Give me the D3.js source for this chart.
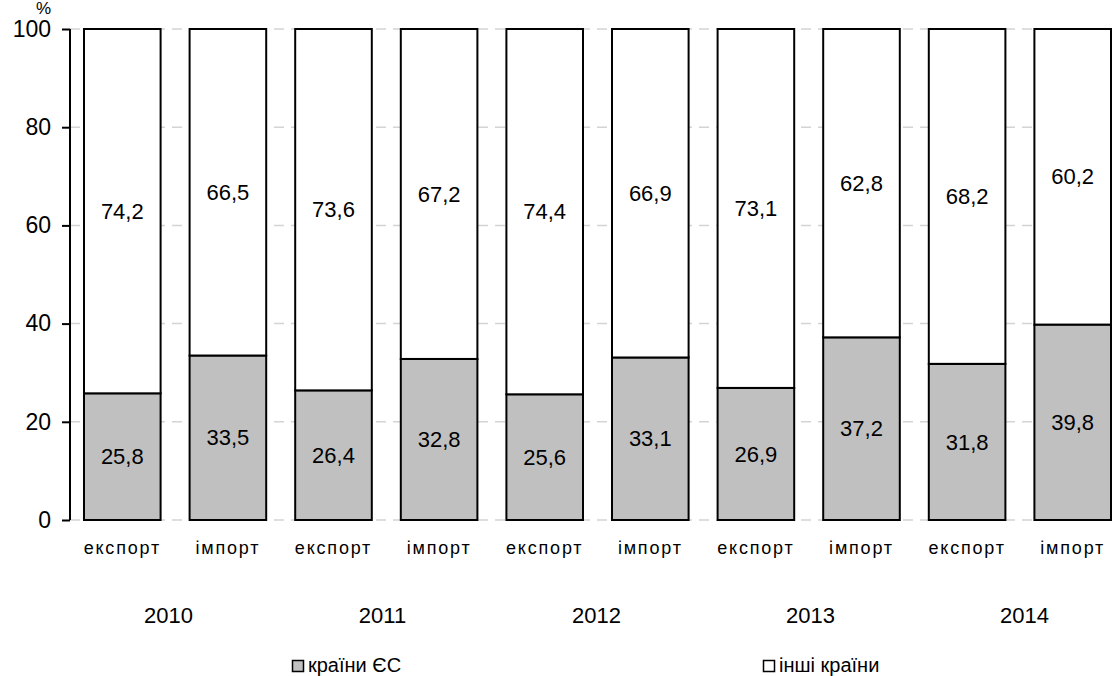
<!DOCTYPE html>
<html>
<head>
<meta charset="utf-8">
<script src="https://cdn.jsdelivr.net/npm/d3@7"></script>
<style>
  html, body { margin: 0; padding: 0; background: #ffffff; }
  svg { display: block; font-family: "Liberation Sans", Arial, sans-serif; }
</style>
</head>
<body>
<svg id="chart" width="1112" height="676"></svg>
<script>
const years = ["2010", "2011", "2012", "2013", "2014"];
const flows = ["експорт", "імпорт"];
const euShare = [25.8, 33.5, 26.4, 32.8, 25.6, 33.1, 26.9, 37.2, 31.8, 39.8];
const otherShare = [74.2, 66.5, 73.6, 67.2, 74.4, 66.9, 73.1, 62.8, 68.2, 60.2];
const yTicks = [0, 20, 40, 60, 80, 100];
const seriesNames = ["країни ЄС", "інші країни"];
const seriesColors = ["#c0c0c0", "#ffffff"];

const rows = [];
years.forEach((y, i) => flows.forEach((f, j) => {
  const k = i * 2 + j;
  rows.push({ id: y + "|" + f, year: y, flow: f, eu: euShare[k], other: otherShare[k] });
}));

const svg = d3.select("#chart");
svg.append("rect").attr("width", 1112).attr("height", 676).attr("fill", "#fff");

const x = d3.scaleBand()
  .domain(rows.map(d => d.id))
  .range([69.5, 1125.5])
  .paddingInner(0.2746)
  .paddingOuter(0.1373);
const y = d3.scaleLinear().domain([0, 100]).range([520, 29]);
const xYear = d3.scalePoint().domain(years).range([168.5, 1024.5]);

const loc = d3.formatLocale({ decimal: ",", thousands: " ", grouping: [3], currency: ["", ""] });
const fmt = loc.format(".1f");

// gridlines
svg.append("g").selectAll("line").data(yTicks).join("line")
  .attr("x1", 70).attr("x2", 1112)
  .attr("y1", d => y(d)).attr("y2", d => y(d))
  .attr("stroke", "#d4d4d4").attr("stroke-width", 1.5)
  .attr("stroke-dasharray", "10,7");

// y axis
const yAxis = d3.axisLeft(y).tickValues(yTicks).tickSize(8).tickPadding(11);
const gy = svg.append("g").attr("transform", "translate(70,0)").call(yAxis);
gy.select(".domain").attr("stroke", "#000").attr("stroke-width", 2).attr("d", `M0,${y(0)}V${y(100)}`);
gy.selectAll(".tick line").attr("stroke", "#000").attr("stroke-width", 2);
gy.selectAll(".tick text").attr("font-size", 23).attr("fill", "#000")
  .attr("font-family", "Liberation Sans, Arial, sans-serif");

svg.append("text").attr("x", 51).attr("y", 14).attr("text-anchor", "end")
  .attr("font-size", 17).attr("fill", "#000").text("%");

// bars
const bars = svg.append("g");
bars.selectAll("rect.eu").data(rows).join("rect").attr("class", "eu")
  .attr("x", d => x(d.id)).attr("width", x.bandwidth())
  .attr("y", d => y(d.eu)).attr("height", d => y(0) - y(d.eu))
  .attr("fill", seriesColors[0]).attr("stroke", "#000").attr("stroke-width", 2);
bars.selectAll("rect.other").data(rows).join("rect").attr("class", "other")
  .attr("x", d => x(d.id)).attr("width", x.bandwidth())
  .attr("y", d => y(d.eu + d.other)).attr("height", d => y(d.eu) - y(d.eu + d.other))
  .attr("fill", seriesColors[1]).attr("stroke", "#000").attr("stroke-width", 2);

// value labels
const labels = svg.append("g").attr("font-size", 22).attr("fill", "#000").attr("text-anchor", "middle");
labels.selectAll("text.eu").data(rows).join("text").attr("class", "eu")
  .attr("x", d => x(d.id) + x.bandwidth() / 2)
  .attr("y", d => y(d.eu / 2)).attr("dy", "0.35em")
  .text(d => fmt(d.eu));
labels.selectAll("text.other").data(rows).join("text").attr("class", "other")
  .attr("x", d => x(d.id) + x.bandwidth() / 2)
  .attr("y", d => y(d.eu + d.other / 2)).attr("dy", "0.35em")
  .text(d => fmt(d.other));

// category labels
svg.append("g").selectAll("text").data(rows).join("text")
  .attr("x", d => x(d.id) + x.bandwidth() / 2).attr("y", 554)
  .attr("text-anchor", "middle").attr("font-size", 18).attr("letter-spacing", "1.8px")
  .attr("fill", "#000")
  .text(d => d.flow);

// year labels
svg.append("g").selectAll("text").data(years).join("text")
  .attr("x", yr => xYear(yr))
  .attr("y", 623).attr("text-anchor", "middle").attr("font-size", 22).attr("fill", "#000")
  .text(d => d);

// legend
const legX = [292, 763];
const leg = svg.append("g").selectAll("g").data(seriesNames).join("g")
  .attr("transform", (d, i) => `translate(${legX[i]},660)`);
leg.append("rect").attr("x", 0.5).attr("y", 0.5).attr("width", 11).attr("height", 11)
  .attr("fill", (d, i) => seriesColors[i]).attr("stroke", "#000").attr("stroke-width", 1.5);
leg.append("text").attr("x", 16).attr("y", 12).attr("font-size", 20).attr("fill", "#000")
  .text(d => d);
</script>
</body>
</html>
